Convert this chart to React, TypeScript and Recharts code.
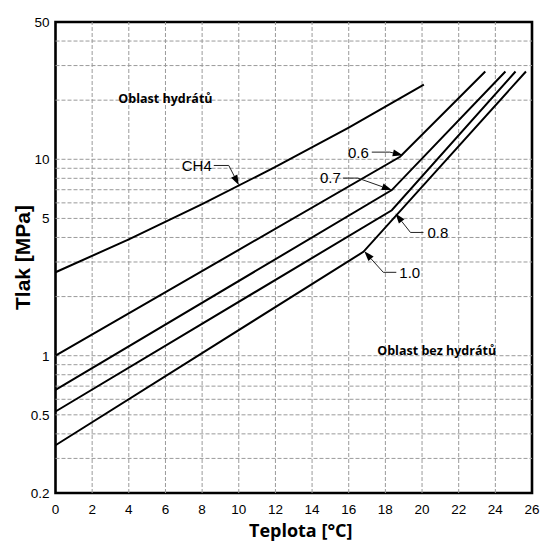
import React from 'react';
import { LineChart, Line, XAxis, YAxis, ReferenceLine, ReferenceArea, ReferenceDot } from 'recharts';

// ---- axis ticks ----
const xTicks = [0, 2, 4, 6, 8, 10, 12, 14, 16, 18, 20, 22, 24, 26];
const yTicks = [0.2, 0.5, 1, 5, 10, 50];
const xGridValues = [2, 4, 6, 8, 10, 12, 14, 16, 18, 20, 22, 24];
const yGridValues = [0.3, 0.4, 0.5, 0.6, 0.7, 0.8, 0.9, 1, 2, 3, 4, 5, 6, 7, 8, 9, 10, 20, 30, 40];

// ---- series (temperature °C, pressure MPa) ----
const ch4Temp = [0, 4, 8, 12, 16, 20.1];
const ch4Press = [2.66, 3.91, 5.91, 9.15, 14.5, 24];
const g06Temp = [0, 18.8, 23.45];
const g06Press = [1.0, 10.3, 28];
const g07Temp = [0, 18.35, 24.55];
const g07Press = [0.67, 6.97, 28];
const g08Temp = [0, 18.35, 25.1];
const g08Press = [0.52, 5.5, 28];
const g10Temp = [0, 16.8, 25.67];
const g10Press = [0.35, 3.38, 28];

const seriesNames = ['CH4', '0.6', '0.7', '0.8', '1.0'];
const seriesTemps = [ch4Temp, g06Temp, g07Temp, g08Temp, g10Temp];
const seriesPress = [ch4Press, g06Press, g07Press, g08Press, g10Press];

const series = seriesNames.map((name, i) => ({
  name,
  data: seriesTemps[i].map((t, j) => ({ t, p: seriesPress[i][j] })),
}));

// ---- callouts: arrow tip in data coordinates ----
const callouts = [
  { label: 'CH4', t: 10.0, p: 7.4, knee: [-10, -19.5], end: [-25, -19.5], gap: -2, anchor: 'end' },
  { label: '0.6', t: 18.95, p: 10.5, knee: [-13, -3], end: [-31, -3], gap: -3, anchor: 'end' },
  { label: '0.7', t: 18.35, p: 6.97, knee: [-34, -12], end: [-49, -12], gap: -2, anchor: 'end' },
  { label: '0.8', t: 18.55, p: 5.3, knee: [15, 19], end: [28, 19], gap: 4, anchor: 'start' },
  { label: '1.0', t: 16.85, p: 3.4, knee: [19, 21], end: [32, 21], gap: 3, anchor: 'start' },
];

const regionLabels = [
  { label: 'Oblast hydrátů', t: 6.0, p: 20.3 },
  { label: 'Oblast bez hydrátů', t: 20.8, p: 1.06 },
];

const tickFont = { fontFamily: 'Liberation Sans, Arial, sans-serif', fontSize: 13.5, fill: '#000' };

const Callout = (props: any) => {
  const { cx, cy, c } = props;
  if (cx == null || cy == null) return null;
  const kx = cx + c.knee[0];
  const ky = cy + c.knee[1];
  const ex = cx + c.end[0];
  const ey = cy + c.end[1];
  const ang = Math.atan2(cy - ky, cx - kx);
  const L = 10;
  const W = 3.5;
  const bx = cx - L * Math.cos(ang);
  const by = cy - L * Math.sin(ang);
  const p1x = bx + W * Math.sin(ang);
  const p1y = by - W * Math.cos(ang);
  const p2x = bx - W * Math.sin(ang);
  const p2y = by + W * Math.cos(ang);
  return (
    <g>
      <polyline points={`${ex},${ey} ${kx},${ky} ${bx},${by}`} fill="none" stroke="#222" strokeWidth={1} />
      <polygon points={`${cx},${cy} ${p1x},${p1y} ${p2x},${p2y}`} fill="#000" />
      <text
        x={ex + c.gap}
        y={ey}
        dy="0.36em"
        textAnchor={c.anchor}
        fontFamily="Liberation Sans, Arial, sans-serif"
        fontSize={15}
        fill="#000"
      >
        {c.label}
      </text>
    </g>
  );
};

const RegionText = (props: any) => {
  const { cx, cy, label } = props;
  if (cx == null || cy == null) return null;
  return (
    <text
      x={cx}
      y={cy}
      dy="0.36em"
      textAnchor="middle"
      fontFamily="Open Sans, sans-serif"
      fontWeight={700}
      fontSize={12.5}
      fill="#000"
    >
      {label}
    </text>
  );
};

export default function App() {
  return (
    <div style={{ width: 543, height: 542, background: '#fff', position: 'relative', overflow: 'hidden' }}>
      <style>{`html,body{margin:0;padding:0;overflow:hidden;background:#fff}`}</style>
      <LineChart width={543} height={542} margin={{ top: 22, right: 11, bottom: 0, left: 0 }}>
        <XAxis
          dataKey="t"
          type="number"
          domain={[0, 26]}
          ticks={xTicks}
          allowDataOverflow
          axisLine={false}
          tickLine={false}
          tickSize={6}
          tickMargin={5}
          height={49}
          tick={tickFont}
          label={{
            value: 'Teplota [°C]',
            position: 'insideBottom',
            offset: 5,
            dx: 7,
            style: { fontFamily: 'Open Sans, sans-serif', fontWeight: 700, fontSize: 18, fill: '#000' },
          }}
        />
        <YAxis
          dataKey="p"
          type="number"
          scale="log"
          domain={[0.2, 50]}
          ticks={yTicks}
          allowDataOverflow
          axisLine={false}
          tickLine={false}
          tickSize={0}
          tickMargin={6}
          width={55.5}
          tick={tickFont}
          tickFormatter={(v: number) => String(v)}
          label={{
            value: 'Tlak [MPa]',
            angle: -90,
            position: 'insideLeft',
            offset: 23,
            style: {
              textAnchor: 'middle',
              fontFamily: 'Liberation Sans, Arial, sans-serif',
              fontWeight: 700,
              fontSize: 21,
              fill: '#000',
            },
          }}
        />
        {yGridValues.map((v) => (
          <ReferenceLine key={`yg${v}`} y={v} stroke="#9a9a9a" strokeWidth={1} strokeDasharray="4 2" />
        ))}
        {xGridValues.map((v) => (
          <ReferenceLine key={`xg${v}`} x={v} stroke="#9a9a9a" strokeWidth={1} strokeDasharray="4 2" />
        ))}
        {series.map((s) => (
          <Line
            key={s.name}
            name={s.name}
            data={s.data}
            dataKey="p"
            type="linear"
            stroke="#000"
            strokeWidth={2}
            dot={false}
            activeDot={false}
            isAnimationActive={false}
          />
        ))}
        {regionLabels.map((r) => (
          <ReferenceDot
            key={r.label}
            x={r.t}
            y={r.p}
            r={0}
            shape={(props: any) => <RegionText {...props} label={r.label} />}
          />
        ))}
        {callouts.map((c) => (
          <ReferenceDot
            key={c.label}
            x={c.t}
            y={c.p}
            r={0}
            shape={(props: any) => <Callout {...props} c={c} />}
          />
        ))}
        <ReferenceArea x1={0} x2={26} y1={0.2} y2={50} fill="none" stroke="#000" strokeWidth={2.6} ifOverflow="visible" />
      </LineChart>
    </div>
  );
}
